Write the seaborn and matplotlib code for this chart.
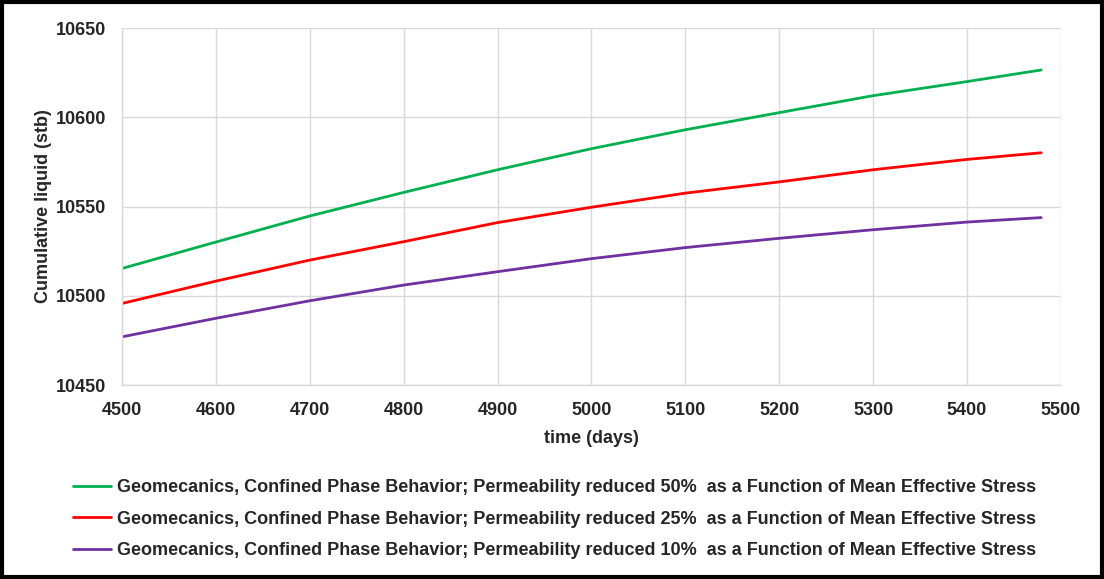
import matplotlib
matplotlib.use("Agg")
import matplotlib.pyplot as plt
import seaborn as sns
import pandas as pd
from matplotlib.patches import Rectangle

# Cumulative liquid production (stb) over time (days)
time_days = [4500, 4600, 4700, 4800, 4900, 5000, 5100, 5200, 5300, 5400, 5479]
perm_50 = [10515.3, 10530.1, 10544.7, 10557.9, 10570.6, 10582.4, 10593.0, 10602.6, 10612.1, 10620.0, 10626.5]
perm_25 = [10495.7, 10508.2, 10520.0, 10530.3, 10541.0, 10549.6, 10557.5, 10563.8, 10570.6, 10576.4, 10580.1]
perm_10 = [10477.0, 10487.4, 10497.2, 10506.0, 10513.5, 10520.8, 10527.0, 10532.2, 10537.0, 10541.3, 10543.8]

labels = [
    "Geomecanics, Confined Phase Behavior; Permeability reduced 50%  as a Function of Mean Effective Stress",
    "Geomecanics, Confined Phase Behavior; Permeability reduced 25%  as a Function of Mean Effective Stress",
    "Geomecanics, Confined Phase Behavior; Permeability reduced 10%  as a Function of Mean Effective Stress",
]
colors = ["#00B050", "#FF0000", "#7030A0"]

x_ticks = [4500, 4600, 4700, 4800, 4900, 5000, 5100, 5200, 5300, 5400, 5500]
y_ticks = [10450, 10500, 10550, 10600, 10650]

frames = []
for lab, vals in zip(labels, [perm_50, perm_25, perm_10]):
    frames.append(pd.DataFrame({"time": time_days, "liquid": vals, "case": lab}))
df = pd.concat(frames, ignore_index=True)

sns.set_theme(style="whitegrid")
plt.rcParams["font.family"] = ["Liberation Sans", "DejaVu Sans"]

fig = plt.figure(figsize=(11.04, 5.79), dpi=100)
ax = fig.add_axes([0.1105, 0.335, 0.8505, 0.6166])

sns.lineplot(data=df, x="time", y="liquid", hue="case", palette=colors,
             linewidth=2.0, ax=ax, legend=True)

ax.set_xlim(4500, 5500)
ax.set_ylim(10450, 10650)
ax.set_xticks(x_ticks)
ax.set_yticks(y_ticks)
ax.grid(True, color="#d9d9d9", linewidth=1)
for side in ["top", "right"]:
    ax.spines[side].set_visible(False)
for side in ["left", "bottom"]:
    ax.spines[side].set_color("#d9d9d9")
    ax.spines[side].set_linewidth(1)
ax.tick_params(axis="x", length=0, labelsize=13, pad=12.3)
ax.tick_params(axis="y", length=0, labelsize=13, pad=11.6)
for t in ax.get_xticklabels() + ax.get_yticklabels():
    t.set_fontweight("bold")
ax.set_xlabel("time (days)", fontsize=13, fontweight="bold", labelpad=7.5)
ax.set_ylabel("Cumulative liquid (stb)", fontsize=13, fontweight="bold", labelpad=2.5)

handles, _ = ax.get_legend_handles_labels()
ax.legend(handles, labels, loc="center", bbox_to_anchor=(0.5027, 0.1036),
          bbox_transform=fig.transFigure, frameon=False, ncol=1,
          prop={"size": 13, "weight": "bold"}, handlelength=2.1,
          handletextpad=0.33, labelspacing=0.8)

# Outer frame around the whole figure
fig.patches.append(Rectangle((0.002, 0.003), 0.996, 0.994, transform=fig.transFigure,
                             fill=False, edgecolor="black", linewidth=3))

fig.savefig("out.png", dpi=100, facecolor="white")
